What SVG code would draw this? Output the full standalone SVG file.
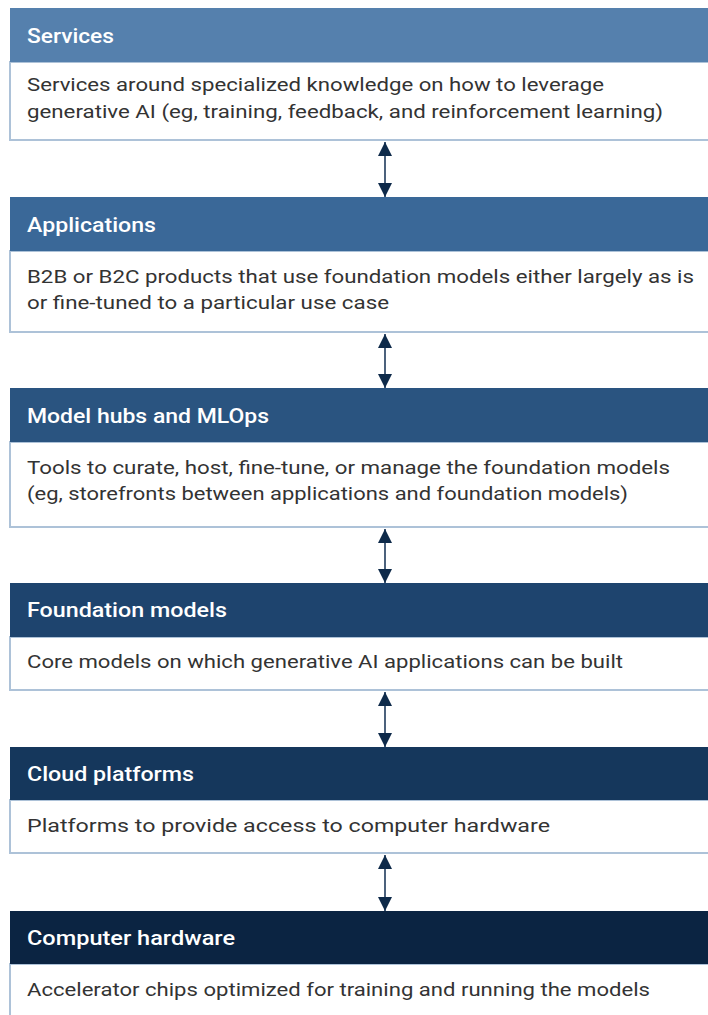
<svg xmlns="http://www.w3.org/2000/svg" width="708" height="1015" viewBox="0 0 708 1015">
<style>
.body{fill:#ffffff;stroke:#adc2d8;stroke-width:2}
.title{font-family:Roboto,"Liberation Sans",Arial,sans-serif;font-size:20px;font-weight:500;fill:#ffffff}
.desc{font-family:Roboto,"Liberation Sans",Arial,sans-serif;font-size:19px;fill:#333333}
.conn{stroke:#1f3a5c;stroke-width:1.6;fill:none}
</style>
<defs>
<marker id="ah" viewBox="0 0 10 10" refX="10" refY="5" markerWidth="14" markerHeight="14" markerUnits="userSpaceOnUse" orient="auto-start-reverse">
<path d="M0,0 L10,5 L0,10 Z" fill="#0e2a4a"/>
</marker>
</defs>
<rect width="708" height="1015" fill="#ffffff"/>
<g id="services">
<rect class="body" x="10" y="62" width="720" height="78"/>
<rect x="10" y="8" width="720" height="54" fill="#5580ad"/>
<text class="title" x="27" y="43" textLength="87" lengthAdjust="spacingAndGlyphs">Services</text>
<text class="desc" x="27" y="91" textLength="577" lengthAdjust="spacingAndGlyphs">Services around specialized knowledge on how to leverage</text>
<text class="desc" x="27" y="118" textLength="636" lengthAdjust="spacingAndGlyphs">generative AI (eg, training, feedback, and reinforcement learning)</text>
</g>
<g id="applications">
<rect class="body" x="10" y="251" width="720" height="81"/>
<rect x="10" y="197" width="720" height="54" fill="#3a6898"/>
<text class="title" x="27" y="232" textLength="129" lengthAdjust="spacingAndGlyphs">Applications</text>
<text class="desc" x="27" y="283" textLength="667" lengthAdjust="spacingAndGlyphs">B2B or B2C products that use foundation models either largely as is</text>
<text class="desc" x="27" y="309" textLength="362" lengthAdjust="spacingAndGlyphs">or fine-tuned to a particular use case</text>
</g>
<g id="model-hubs">
<rect class="body" x="10" y="442" width="720" height="85"/>
<rect x="10" y="388" width="720" height="54" fill="#2a5480"/>
<text class="title" x="27" y="423" textLength="242" lengthAdjust="spacingAndGlyphs">Model hubs and MLOps</text>
<text class="desc" x="27" y="474" textLength="643" lengthAdjust="spacingAndGlyphs">Tools to curate, host, fine-tune, or manage the foundation models</text>
<text class="desc" x="27" y="500" textLength="601" lengthAdjust="spacingAndGlyphs">(eg, storefronts between applications and foundation models)</text>
</g>
<g id="foundation-models">
<rect class="body" x="10" y="637" width="720" height="53"/>
<rect x="10" y="583" width="720" height="54" fill="#1e446e"/>
<text class="title" x="27" y="617" textLength="200" lengthAdjust="spacingAndGlyphs">Foundation models</text>
<text class="desc" x="27" y="668" textLength="596" lengthAdjust="spacingAndGlyphs">Core models on which generative AI applications can be built</text>
</g>
<g id="cloud-platforms">
<rect class="body" x="10" y="800" width="720" height="53"/>
<rect x="10" y="747" width="720" height="53" fill="#15375c"/>
<text class="title" x="27" y="781" textLength="167" lengthAdjust="spacingAndGlyphs">Cloud platforms</text>
<text class="desc" x="27" y="832" textLength="523" lengthAdjust="spacingAndGlyphs">Platforms to provide access to computer hardware</text>
</g>
<g id="computer-hardware">
<rect class="body" x="10" y="964" width="720" height="70"/>
<rect x="10" y="911" width="720" height="53" fill="#0b2442"/>
<text class="title" x="27" y="945" textLength="208" lengthAdjust="spacingAndGlyphs">Computer hardware</text>
<text class="desc" x="27" y="996" textLength="623" lengthAdjust="spacingAndGlyphs">Accelerator chips optimized for training and running the models</text>
</g>
<g id="connectors">
<line class="conn" x1="385" y1="142" x2="385" y2="197" marker-start="url(#ah)" marker-end="url(#ah)"/>
<line class="conn" x1="385" y1="334" x2="385" y2="388" marker-start="url(#ah)" marker-end="url(#ah)"/>
<line class="conn" x1="385" y1="529" x2="385" y2="583" marker-start="url(#ah)" marker-end="url(#ah)"/>
<line class="conn" x1="385" y1="692" x2="385" y2="747" marker-start="url(#ah)" marker-end="url(#ah)"/>
<line class="conn" x1="385" y1="855" x2="385" y2="911" marker-start="url(#ah)" marker-end="url(#ah)"/>
</g>
</svg>
